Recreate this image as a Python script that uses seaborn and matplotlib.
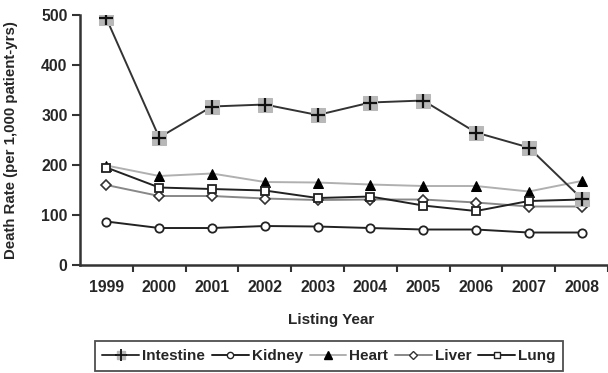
import matplotlib
matplotlib.use("Agg")
import matplotlib.pyplot as plt
import seaborn as sns
import pandas as pd
from matplotlib.lines import Line2D
from matplotlib.legend_handler import HandlerTuple
from matplotlib.ticker import FixedLocator

years = [1999, 2000, 2001, 2002, 2003, 2004, 2005, 2006, 2007, 2008]
intestine = [493, 255, 317, 321, 300, 325, 329, 265, 235, 133]
kidney = [87, 74, 74, 78, 77, 74, 71, 71, 65, 65]
heart = [199, 178, 183, 166, 165, 161, 158, 158, 147, 168]
liver = [160, 138, 138, 133, 130, 131, 131, 125, 117, 117]
lung = [195, 155, 152, 149, 134, 137, 119, 108, 128, 131]
series_names = ["Intestine", "Kidney", "Heart", "Liver", "Lung"]
yticks = [0, 100, 200, 300, 400, 500]

sns.set_style("white")
plt.rcParams['font.family'] = ['Liberation Sans', 'DejaVu Sans']
plt.rcParams['font.weight'] = 'bold'

fig = plt.figure(figsize=(6.08, 3.73), dpi=100)
ax = fig.add_axes([0.1316, 0.2895, 0.8684, 0.6703])

df = pd.DataFrame({"Year": years, "Intestine": intestine, "Kidney": kidney,
                   "Heart": heart, "Liver": liver, "Lung": lung})

lw = 1.4
# Kidney
sns.lineplot(data=df, x="Year", y="Kidney", ax=ax, color="#222222", lw=lw,
             marker="o", markersize=6, markerfacecolor="white",
             markeredgecolor="#222222", markeredgewidth=1.3)
# Liver
sns.lineplot(data=df, x="Year", y="Liver", ax=ax, color="#888888", lw=lw,
             marker="D", markersize=5.5, markerfacecolor="white",
             markeredgecolor="#333333", markeredgewidth=1.2)
# Heart
sns.lineplot(data=df, x="Year", y="Heart", ax=ax, color="#b0b0b0", lw=lw,
             marker="^", markersize=7.5, markerfacecolor="black",
             markeredgecolor="black")
# Lung
sns.lineplot(data=df, x="Year", y="Lung", ax=ax, color="#222222", lw=lw,
             marker="s", markersize=6, markerfacecolor="white",
             markeredgecolor="#222222", markeredgewidth=1.3)
# Intestine: gray square under a black plus
sns.lineplot(data=df, x="Year", y="Intestine", ax=ax, color="#333333", lw=lw,
             marker="s", markersize=9.5, markerfacecolor="#b8b8b8",
             markeredgecolor="#b8b8b8")
sns.lineplot(data=df, x="Year", y="Intestine", ax=ax, color="#333333", lw=0,
             marker="+", markersize=10.5, markeredgecolor="#111111",
             markeredgewidth=1.6)

ax.set_xlim(years[0] - 0.5, years[-1] + 0.5)
ax.set_ylim(yticks[0], yticks[-1])
ax.set_xticks(years)
ax.set_xticklabels([str(y) for y in years], fontsize=11.3, fontweight='bold')
ax.xaxis.set_minor_locator(FixedLocator([y + 0.5 for y in years]))
ax.tick_params(axis='x', which='major', length=0, pad=11)
ax.tick_params(axis='x', which='minor', length=5, width=1.5, color='#333333', direction='out', bottom=True)
ax.set_yticks(yticks)
ax.set_yticklabels([str(v) for v in yticks], fontsize=11.3, fontweight='bold')
ax.tick_params(axis='y', length=6, width=1.5, color='#333333', direction='out', left=True, pad=3)

for s in ['top', 'right']:
    ax.spines[s].set_visible(False)
for s in ['left', 'bottom']:
    ax.spines[s].set_color('#333333')
    ax.spines[s].set_linewidth(1.8)

ax.set_xlabel("Listing Year", fontsize=11, fontweight='bold')
ax.xaxis.set_label_coords(0.475, -0.19)
ax.set_ylabel("Death Rate (per 1,000 patient-yrs)", fontsize=10.8, fontweight='bold')
ax.yaxis.set_label_coords(-0.118, 0.5)

# Legend
h_int = (Line2D([], [], color="#333333", lw=lw),
         Line2D([], [], lw=0, marker="s", markersize=6, markerfacecolor="#b8b8b8", markeredgecolor="#b8b8b8"),
         Line2D([], [], lw=0, marker="+", markersize=8, markeredgecolor="#111111", markeredgewidth=1.3))
h_kid = Line2D([], [], color="#222222", lw=lw, marker="o", markersize=4.5,
               markerfacecolor="white", markeredgecolor="#222222")
h_hea = Line2D([], [], color="#b0b0b0", lw=lw, marker="^", markersize=5.5,
               markerfacecolor="black", markeredgecolor="black")
h_liv = Line2D([], [], color="#888888", lw=lw, marker="D", markersize=4,
               markerfacecolor="white", markeredgecolor="#333333")
h_lun = Line2D([], [], color="#222222", lw=lw, marker="s", markersize=4.5,
               markerfacecolor="white", markeredgecolor="#222222")
leg = fig.legend([h_int, h_kid, h_hea, h_liv, h_lun], series_names,
                 handler_map={tuple: HandlerTuple(ndivide=1, pad=0)},
                 loc='center', bbox_to_anchor=(0.541, 0.0456), ncol=5,
                 fontsize=11, frameon=True, fancybox=False, edgecolor='#222222',
                 handlelength=2.4, handletextpad=0.2, columnspacing=0.45,
                 borderpad=0.5, borderaxespad=0)
leg.get_frame().set_linewidth(1.3)
for t in leg.get_texts():
    t.set_fontweight('bold')

fig.savefig("out.png", dpi=100)
